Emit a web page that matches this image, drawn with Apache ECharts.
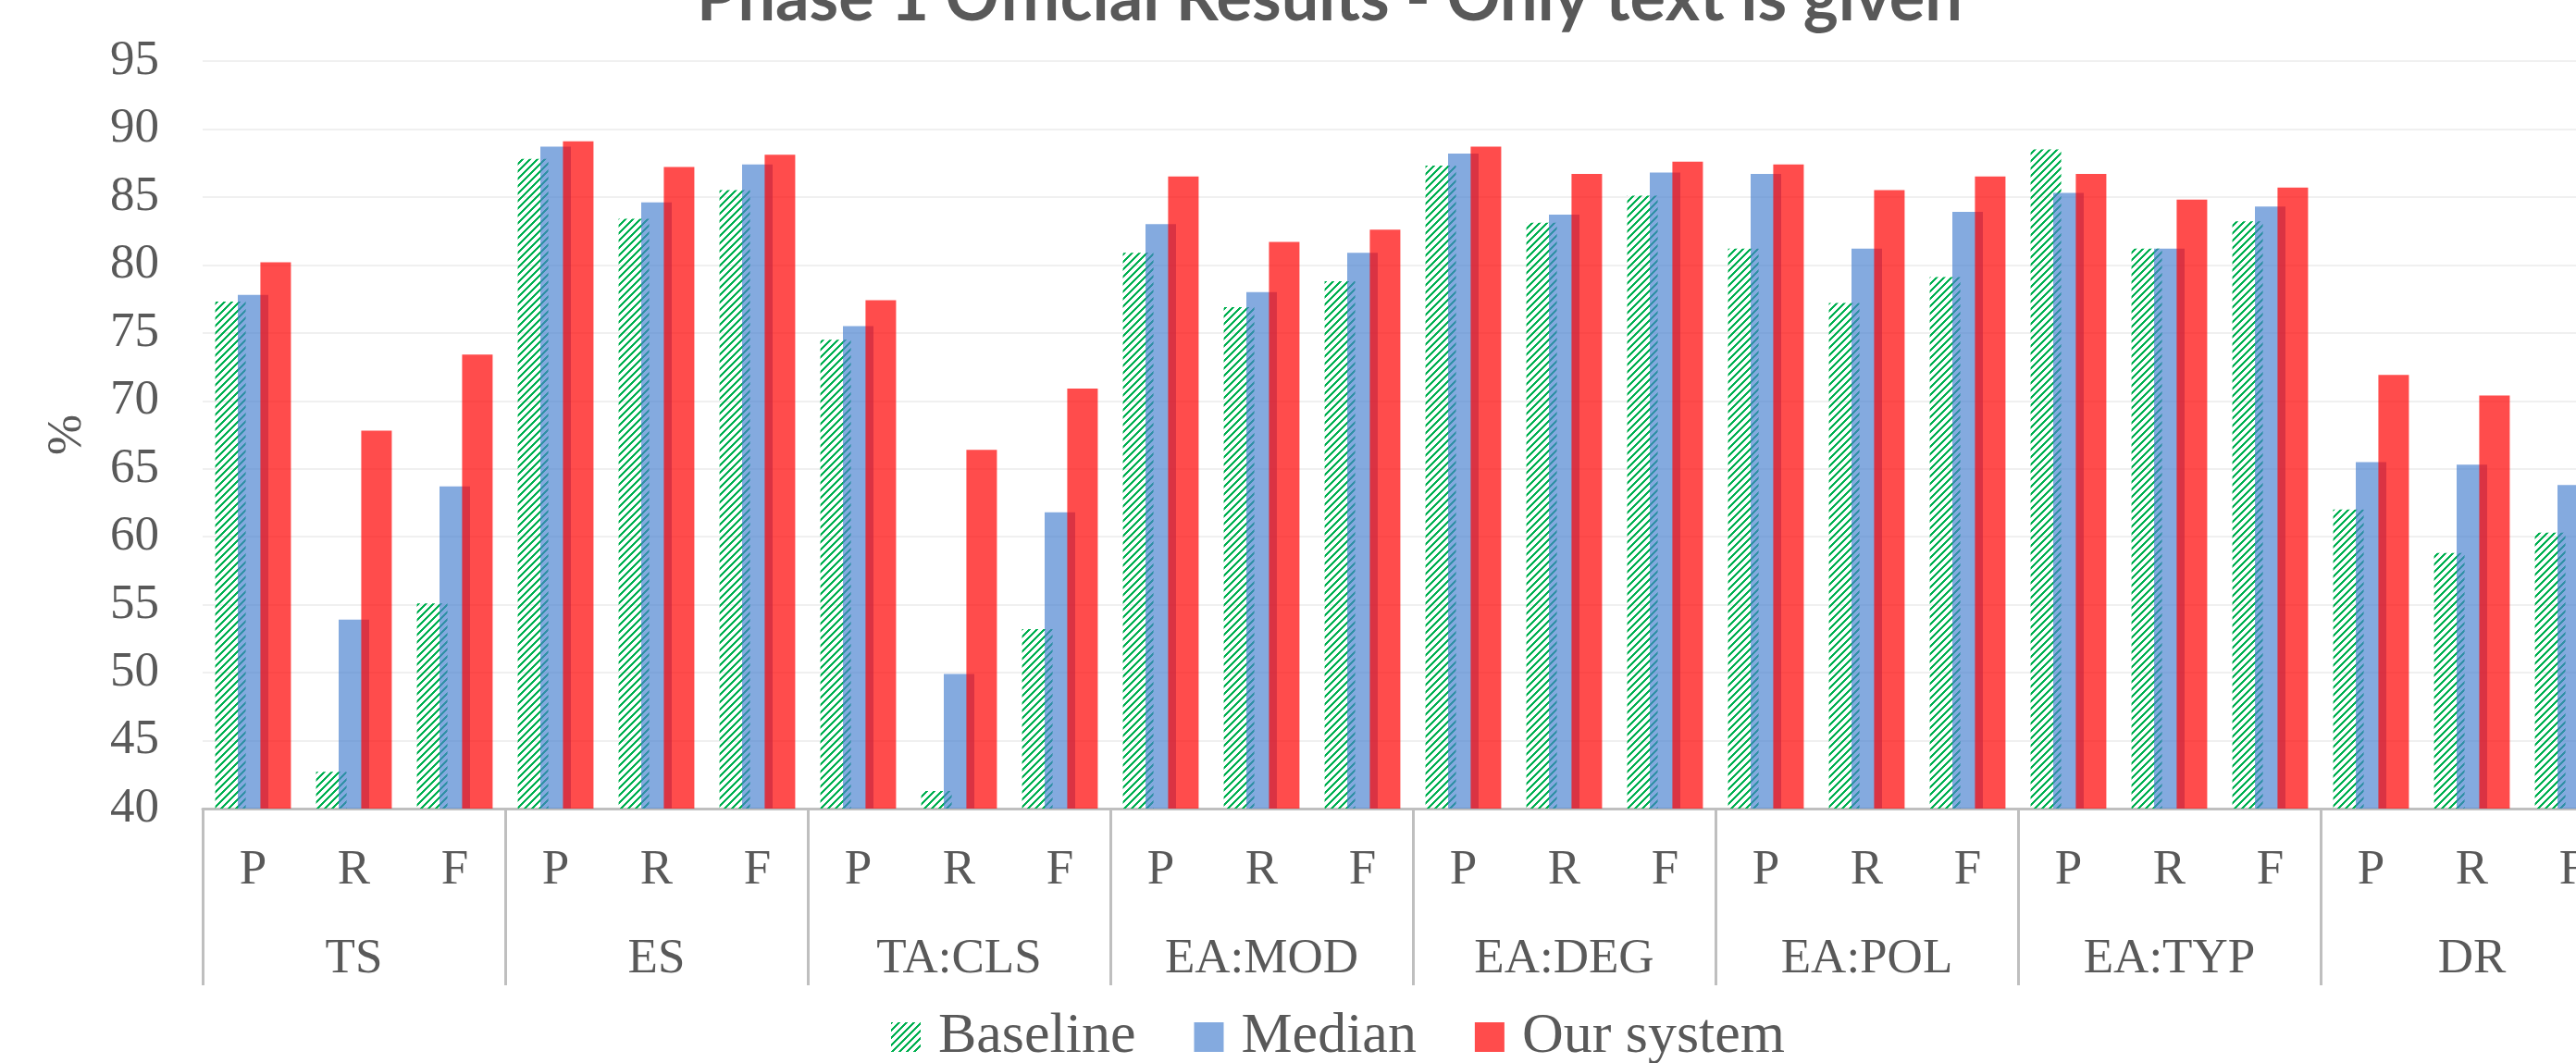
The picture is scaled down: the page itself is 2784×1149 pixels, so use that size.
<!DOCTYPE html>
<html>
<head>
<meta charset="utf-8">
<title>Phase 1 Official Results</title>
<script src="https://cdn.jsdelivr.net/npm/echarts@6/dist/echarts.min.js"></script>
<style>
  html, body { margin: 0; padding: 0; background: #fff; overflow: hidden; }
  /* 原图右侧被裁掉一截, 画布比窗口宽 */
  #main { width: 2840px; height: 1149px; }
</style>
</head>
<body>
<div id="main"></div>
<script>
// 外层分组 + 内层指标
const groups = ['TS', 'ES', 'TA:CLS', 'EA:MOD', 'EA:DEG', 'EA:POL', 'EA:TYP', 'DR']
const metrics = ['P', 'R', 'F']

// 每组依次是 P, R, F
const baseline = [77.3, 42.7, 55.1, 87.8, 83.4, 85.5, 74.5, 41.3, 53.2, 80.9, 76.9, 78.8,
  87.3, 83.1, 85.1, 81.2, 77.2, 79.1, 88.5, 81.2, 83.2, 62.0, 58.8, 60.3]
const median = [77.8, 53.9, 63.7, 88.7, 84.6, 87.4, 75.5, 49.9, 61.8, 83.0, 78.0, 80.9,
  88.2, 83.7, 86.8, 86.7, 81.2, 83.9, 85.3, 81.2, 84.3, 65.5, 65.3, 63.8]
const ourSystem = [80.2, 67.8, 73.4, 89.1, 87.2, 88.1, 77.4, 66.4, 70.9, 86.5, 81.7, 82.6,
  88.7, 86.7, 87.6, 87.4, 85.5, 86.5, 86.7, 84.8, 85.7, 71.9, 70.4, 69.0]

// y 轴刻度
const yMin = 40
const yMax = 95
const yStep = 5

const FONT = 'Liberation Serif'
const TEXT = '#595959'
const AXIS = '#BFBFBF'

// 类目: "TS|P" 这种形式, 避免重名
const categories = []
groups.forEach((g) => {
  metrics.forEach((m) => {
    categories.push(g + '|' + m)
  })
})

// Baseline 的绿色斜线填充 (像素画, 每列 3px 绿 + 5px 白)
const hatch = document.createElement('canvas')
hatch.width = 8
hatch.height = 8
const hctx = hatch.getContext('2d')
hctx.fillStyle = '#00B050'
for (let x = 0; x < 8; x++) {
  for (let k = 0; k < 3; k++) {
    hctx.fillRect(x, (7 - x + k) % 8, 1, 1)
  }
}

const chart = echarts.init(document.getElementById('main'))

const option = {
  animation: false,
  backgroundColor: '#fff',
  title: {
    text: 'Phase 1 Official Results - Only text is given',
    left: 748,
    top: -42,
    textStyle: {
      fontFamily: 'Lato',
      fontWeight: 'bold',
      fontSize: 72,
      color: TEXT,
    },
  },
  legend: {
    left: 958,
    top: 1085,
    itemWidth: 32,
    itemHeight: 32,
    itemGap: 63,
    icon: 'rect',
    textStyle: {
      fontFamily: FONT,
      fontSize: 62,
      color: TEXT,
      padding: [0, 0, 0, 14],
    },
  },
  grid: {
    left: 219,
    top: 66,
    width: 2616,
    height: 808,
  },
  xAxis: [
    {
      type: 'category',
      data: categories,
      position: 'bottom',
      axisLine: { onZero: false, lineStyle: { color: AXIS, width: 3 } },
      axisTick: { show: false },
      axisLabel: {
        interval: 0,
        margin: 41,
        fontFamily: FONT,
        fontSize: 53,
        color: TEXT,
        formatter: (v) => v.split('|')[1],
      },
    },
    {
      type: 'category',
      data: groups,
      position: 'bottom',
      axisLine: { show: false, onZero: false },
      axisTick: {
        show: true,
        interval: 0,
        length: 191,
        lineStyle: { color: AXIS, width: 3 },
      },
      axisLabel: {
        interval: 0,
        margin: 137,
        fontFamily: FONT,
        fontSize: 53,
        color: TEXT,
      },
      splitLine: { show: false },
    },
  ],
  yAxis: {
    type: 'value',
    min: yMin,
    max: yMax,
    interval: yStep,
    name: '%',
    nameLocation: 'middle',
    nameRotate: 90,
    nameGap: 119,
    nameTextStyle: { fontFamily: FONT, fontSize: 53, color: TEXT },
    axisLine: { show: false },
    axisTick: { show: false },
    axisLabel: { margin: 47, fontFamily: FONT, fontSize: 53, color: TEXT },
    splitLine: { lineStyle: { color: '#F0F0F0', width: 2 } },
  },
  series: [
    {
      name: 'Baseline',
      type: 'bar',
      data: baseline,
      barWidth: 33,
      barGap: '-26%',
      itemStyle: { color: { image: hatch, repeat: 'repeat' } },
    },
    {
      name: 'Median',
      type: 'bar',
      data: median,
      barWidth: 33,
      barGap: '-26%',
      itemStyle: { color: 'rgba(72,128,208,0.67)' },
    },
    {
      name: 'Our system',
      type: 'bar',
      data: ourSystem,
      barWidth: 33,
      barGap: '-26%',
      itemStyle: { color: 'rgba(255,0,0,0.7)' },
    },
  ],
}

chart.setOption(option)
</script>
</body>
</html>
